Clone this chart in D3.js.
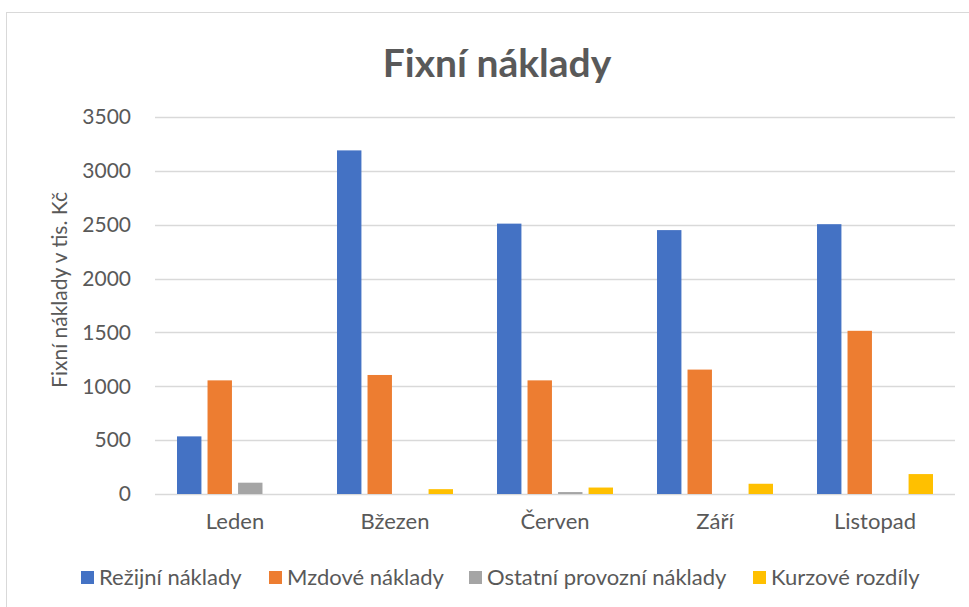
<!DOCTYPE html>
<html>
<head>
<meta charset="utf-8">
<script src="https://cdn.jsdelivr.net/npm/d3@7"></script>
<style>
  html, body { margin: 0; padding: 0; background: #fff; }
  svg { display: block; }
  text { font-family: Lato, "Open Sans", sans-serif; fill: #595959; }
</style>
</head>
<body>
<svg id="chart" width="969" height="607"></svg>
<script>
const categories = ["Leden", "Bžezen", "Červen", "Září", "Listopad"];
const seriesNames = ["Režijní náklady", "Mzdové náklady", "Ostatní provozní náklady", "Kurzové rozdíly"];
const rezijni = [535, 3190, 2510, 2450, 2505];
const mzdove = [1055, 1105, 1055, 1155, 1515];
const ostatni = [105, 0, 18, 0, 0];
const kurzove = [0, 45, 60, 95, 185];
const yTicks = [0, 500, 1000, 1500, 2000, 2500, 3000, 3500];
const colors = ["#4472C4", "#ED7D31", "#A5A5A5", "#FFC000"];
const seriesValues = [rezijni, mzdove, ostatni, kurzove];
const chartTitle = "Fixní náklady";
const yTitle = "Fixní náklady v tis. Kč";

(function () {
const svg = d3.select("#chart");
const W = 969, H = 607;
const FONT = "Lato, 'Open Sans', sans-serif";

// chart border
svg.append("rect").attr("x", 6.5).attr("y", 12.5).attr("width", W).attr("height", H)
  .attr("fill", "#fff").attr("stroke", "#D9D9D9").attr("stroke-width", 1);

const pLeft = 155, pRight = 955, pTop = 117, pBottom = 494;

const x = d3.scaleBand().domain(categories).range([pLeft, pRight]).paddingInner(0).paddingOuter(0);
const y = d3.scaleLinear().domain([0, 3500]).range([pBottom, pTop]);
const xs = d3.scaleBand().domain(d3.range(seriesNames.length)).range([-58, 58]).paddingInner(0.2).paddingOuter(0);

// gridlines
svg.append("g").selectAll("line").data(yTicks).join("line")
  .attr("x1", pLeft).attr("x2", pRight)
  .attr("y1", d => Math.round(y(d)) + 0.5).attr("y2", d => Math.round(y(d)) + 0.5)
  .attr("stroke", "#D9D9D9").attr("stroke-width", 1.3);

// y axis labels
const yAxis = d3.axisLeft(y).tickValues(yTicks).tickFormat(d3.format("d")).tickSize(0).tickPadding(0);
const gy = svg.append("g").attr("transform", `translate(131,0)`).call(yAxis);
gy.select(".domain").remove();
gy.selectAll("text").attr("font-size", 21).style("fill", "#595959").style("font-family", FONT);

// bars
const groups = svg.append("g").selectAll("g").data(categories).join("g")
  .attr("transform", d => `translate(${x(d) + x.bandwidth() / 2},0)`);
groups.selectAll("rect").data((c, ci) => seriesValues.map((vals, si) => ({ si, v: vals[ci] })))
  .join("rect")
  .attr("x", d => xs(d.si))
  .attr("width", xs.bandwidth())
  .attr("y", d => y(d.v))
  .attr("height", d => pBottom - y(d.v))
  .attr("fill", d => colors[d.si]);

// x axis labels
const xAxis = d3.axisBottom(x).tickSize(0).tickPadding(0);
const gx = svg.append("g").attr("transform", `translate(0,${pBottom + 16})`).call(xAxis);
gx.select(".domain").remove();
gx.selectAll("text").attr("font-size", 22).attr("dy", "0.85em").style("fill", "#595959").style("font-family", FONT);

// title
svg.append("text").attr("x", 497).attr("y", 77).attr("text-anchor", "middle")
  .attr("font-size", 39).attr("font-weight", "bold").text(chartTitle);

// y title
svg.append("text").attr("transform", "translate(67,290) rotate(-90)")
  .attr("text-anchor", "middle").attr("font-size", 21).text(yTitle);

// legend
const legendX = [81, 269, 469, 753];
const lg = svg.append("g").selectAll("g").data(seriesNames).join("g")
  .attr("transform", (d, i) => `translate(${legendX[i]},571)`);
lg.append("rect").attr("width", 13).attr("height", 13).attr("fill", (d, i) => colors[i]);
lg.append("text").attr("x", 18).attr("y", 14).attr("font-size", 22).text(d => d);
})();
</script>
</body>
</html>
